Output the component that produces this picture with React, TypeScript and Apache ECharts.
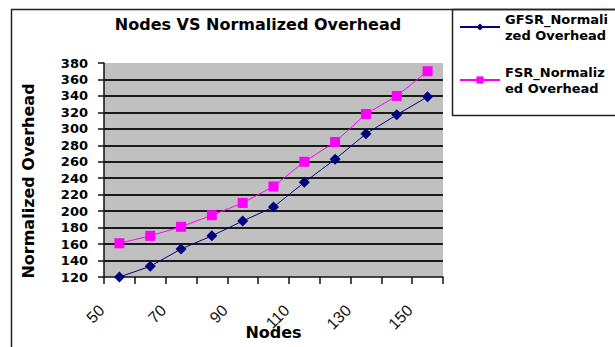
import React, { useEffect, useRef } from "react";
import * as echarts from "echarts";

const categories = ["50", "60", "70", "80", "90", "100", "110", "120", "130", "140", "150"];
const gfsrValues = [120, 133, 154, 170, 188, 205, 235, 263, 294, 317, 339];
const fsrValues = [161, 170, 181, 195, 210, 230, 260, 284, 318, 340, 370];
const seriesNames = ["GFSR_Normalized Overhead", "FSR_Normalized Overhead"];
const titleText = "Nodes VS Normalized Overhead";
const xName = "Nodes";
const yName = "Normalized Overhead";
const yMin = 120;
const yMax = 380;
const yStep = 20;

const BOLD = "DejaVu Sans";

export default function App() {
  const ref = useRef<HTMLDivElement>(null);
  useEffect(() => {
    if (!ref.current) return;
    const chart = echarts.init(ref.current, undefined, { renderer: "svg" });
    chart.setOption({
      animation: false,
      backgroundColor: "#ffffff",
      title: {
        text: titleText,
        left: 258,
        top: 16,
        padding: 0,
        textAlign: "center",
        textStyle: { fontFamily: BOLD, fontWeight: "bold", fontSize: 16, color: "#000" },
      },
      legend: {
        orient: "vertical",
        left: 459,
        top: 3,
        padding: 0,
        itemGap: 5,
        itemWidth: 40,
        itemHeight: 9,
        formatter: (n: string) => n.slice(0, 12) + "\n" + n.slice(12),
        textStyle: {
          fontFamily: BOLD,
          fontWeight: "bold",
          fontSize: 13,
          lineHeight: 16,
          color: "#000",
          padding: [16, 0, 0, 0],
        },
        data: seriesNames,
      },
      graphic: [
        {
          type: "rect",
          shape: { x: 11.5, y: 9.5, width: 900, height: 600 },
          style: { fill: "none", stroke: "#222", lineWidth: 1.5 },
          silent: true,
        },
        {
          type: "rect",
          shape: { x: 452.5, y: 9.5, width: 400, height: 106 },
          style: { fill: "none", stroke: "#222", lineWidth: 1.5 },
          silent: true,
        },
      ],
      grid: {
        left: 104,
        right: 172,
        top: 63,
        bottom: 70,
        show: true,
        backgroundColor: "#c0c0c0",
        borderWidth: 0,
        containLabel: false,
        outerBoundsMode: "none",
      },
      xAxis: {
        type: "category",
        data: categories,
        boundaryGap: true,
        name: xName,
        nameLocation: "middle",
        nameGap: 47,
        nameMoveOverlap: false,
        nameTextStyle: { fontFamily: BOLD, fontWeight: "bold", fontSize: 16, color: "#000" },
        axisLine: { lineStyle: { color: "#111", width: 1.5 } },
        axisTick: { show: true, interval: 0, length: 7, lineStyle: { color: "#111", width: 1.5 } },
        axisLabel: {
          interval: 1,
          rotate: 45,
          margin: 13,
          padding: [0, 25, 0, 0],
          fontFamily: "Liberation Sans",
          fontSize: 16,
          color: "#111",
        },
        splitLine: { show: false },
      },
      yAxis: {
        type: "value",
        min: yMin,
        max: yMax,
        interval: yStep,
        name: yName,
        nameLocation: "middle",
        nameGap: 68,
        nameMoveOverlap: false,
        nameTextStyle: {
          fontFamily: BOLD,
          fontWeight: "bold",
          fontSize: 16,
          color: "#000",
          padding: [0, 22, 0, 0],
        },
        axisLine: { show: true, lineStyle: { color: "#111", width: 1.5 } },
        axisTick: { show: true, length: 6, lineStyle: { color: "#111", width: 1.5 } },
        axisLabel: {
          margin: 16,
          fontFamily: BOLD,
          fontWeight: "bold",
          fontSize: 13,
          color: "#000",
        },
        splitLine: {
          show: true,
          showMinLine: false,
          showMaxLine: false,
          lineStyle: { color: "#1a1a1a", width: 2 },
        },
      },
      series: [
        {
          name: seriesNames[0],
          type: "line",
          data: gfsrValues,
          symbol: "diamond",
          symbolSize: 11,
          lineStyle: { color: "#000080", width: 1 },
          itemStyle: { color: "#000080" },
        },
        {
          name: seriesNames[1],
          type: "line",
          data: fsrValues,
          symbol: "rect",
          symbolSize: 10,
          lineStyle: { color: "#ff00ff", width: 1 },
          itemStyle: { color: "#ff00ff" },
        },
      ],
    });
    return () => chart.dispose();
  }, []);
  return (
    <div
      ref={ref}
      style={{ position: "fixed", left: 0, top: 0, width: 615, height: 347, background: "#fff" }}
    />
  );
}
